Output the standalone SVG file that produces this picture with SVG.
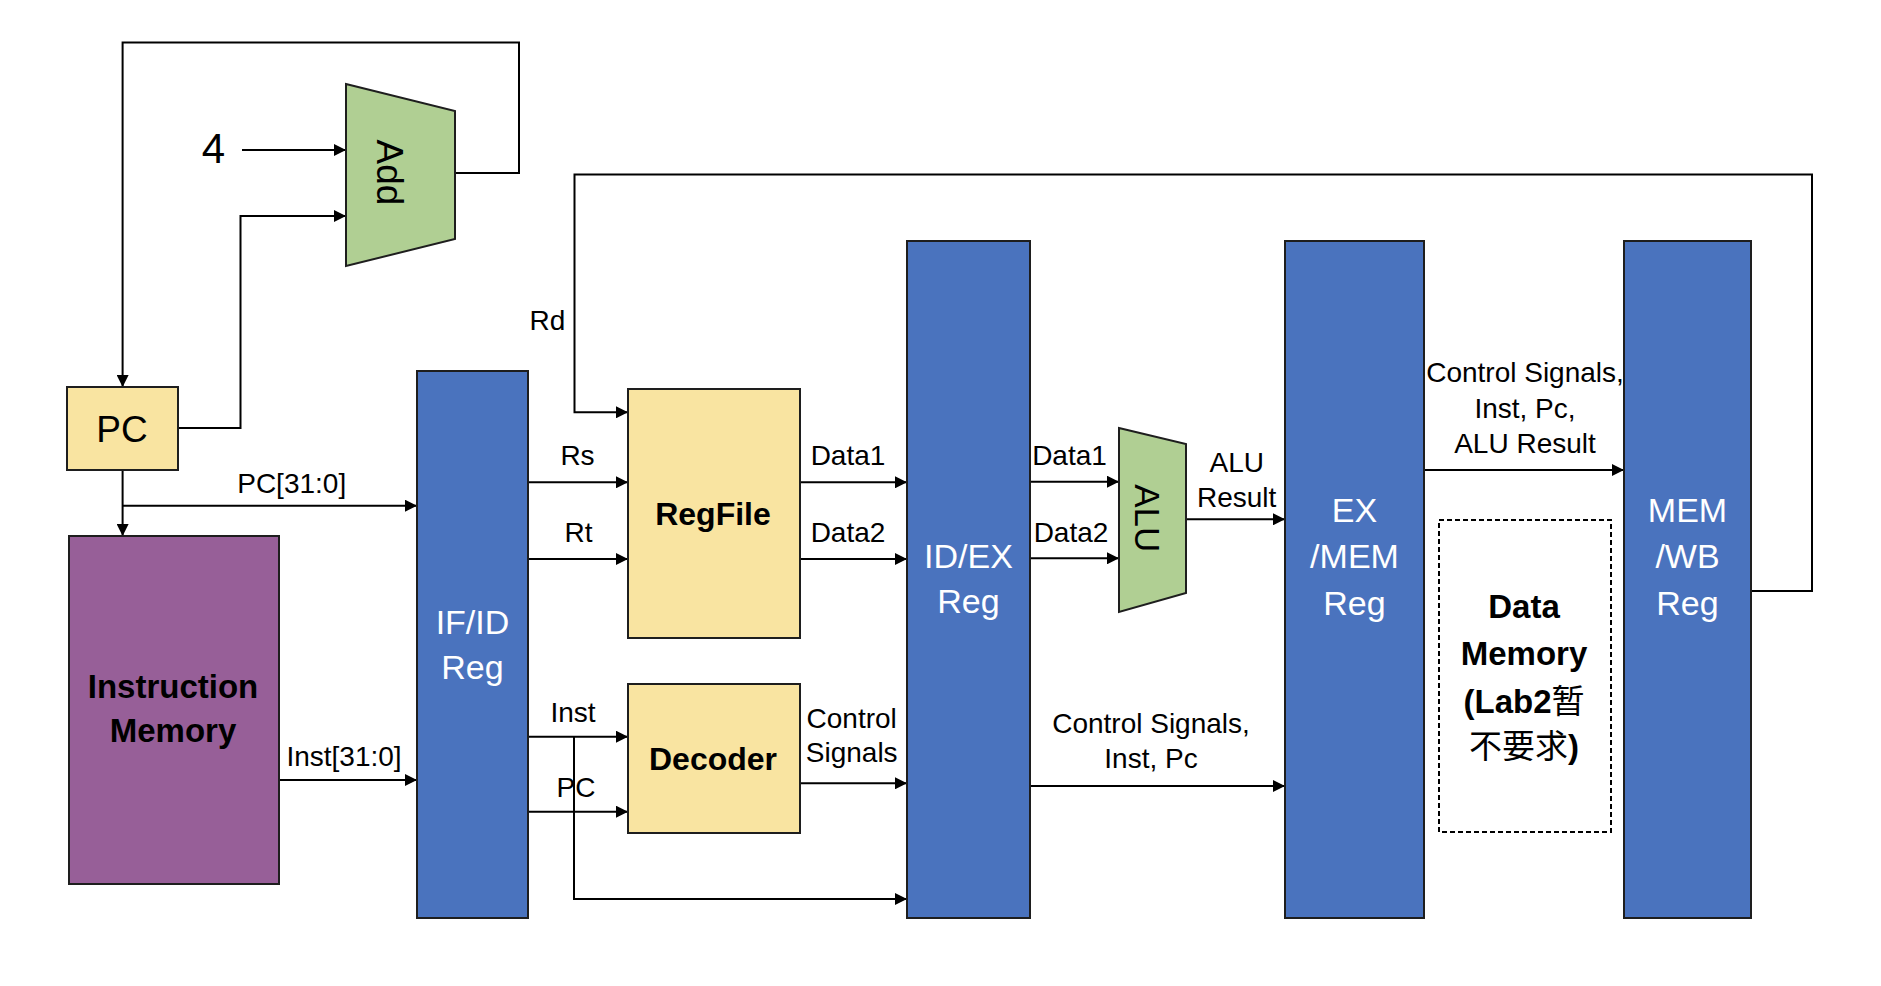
<svg xmlns="http://www.w3.org/2000/svg" width="1881" height="986" viewBox="0 0 1881 986">
<style>
.ln{fill:none;stroke:#000;stroke-width:2}
.a{marker-end:url(#ah)}
.t{font-family:"Liberation Sans","Noto Sans CJK SC",sans-serif;fill:#000;text-anchor:middle}
.s{font-size:28px}
.b{font-weight:bold}
.cjk{font-weight:normal;font-family:"Noto Sans CJK SC",sans-serif}
.reg{fill:#4A73BE;stroke:#1e1e1e;stroke-width:2}
.rt{font-size:34px;fill:#fff}
.yel{fill:#F9E4A1;stroke:#1e1e1e;stroke-width:2}
.grn{fill:#B0CF93;stroke:#1e1e1e;stroke-width:2}
.pur{fill:#975F98;stroke:#1e1e1e;stroke-width:2}
</style>
<defs>
<marker id="ah" markerUnits="userSpaceOnUse" viewBox="0 0 12 12" markerWidth="12" markerHeight="12" refX="12" refY="6" orient="auto">
<path d="M0,0 L12,6 L0,12 z" fill="#000"/>
</marker>
</defs>
<rect width="1881" height="986" fill="#fff"/>

<g id="connectors">
<path class="ln a" d="M455,173 H519 V42.5 H122.6 V387"/>
<path class="ln a" d="M242,150 H346"/>
<path class="ln a" d="M178,428 H240.5 V216 H346"/>
<path class="ln a" d="M122.6,470 V536"/>
<path class="ln a" d="M122.6,505.7 H417"/>
<path class="ln a" d="M279,780 H417"/>
<path class="ln a" d="M528,482.3 H628"/>
<path class="ln a" d="M528,559 H628"/>
<path class="ln a" d="M528,736.7 H628"/>
<path class="ln a" d="M528,811.7 H628"/>
<path class="ln a" d="M574,736.7 V899 H907"/>
<path class="ln a" d="M800,482.3 H907"/>
<path class="ln a" d="M800,559 H907"/>
<path class="ln a" d="M800,783.3 H907"/>
<path class="ln a" d="M1030,481.7 H1119"/>
<path class="ln a" d="M1030,558.3 H1119"/>
<path class="ln a" d="M1186,519.3 H1285"/>
<path class="ln a" d="M1030,786 H1285"/>
<path class="ln a" d="M1424,470 H1624"/>
<path class="ln a" d="M1751,591 H1812 V174.5 H574.5 V412.3 H628"/>
</g>

<g id="const4"><text class="t" x="213.5" y="163" font-size="42">4</text></g>

<g id="add">
<polygon class="grn" points="346,84 455,111 455,239 346,266"/>
<text class="t" transform="translate(377,172.5) rotate(90)" font-size="37">Add</text>
</g>

<g id="pc">
<rect class="yel" x="67" y="387" width="111" height="83"/>
<text class="t" x="122" y="442" font-size="37">PC</text>
</g>

<g id="imem">
<rect class="pur" x="69" y="536" width="210" height="348"/>
<text class="t b" x="173" y="698" font-size="33">Instruction</text>
<text class="t b" x="173" y="742" font-size="33">Memory</text>
</g>

<g id="ifid">
<rect class="reg" x="417" y="371" width="111" height="547"/>
<text class="t rt" x="472.5" y="634">IF/ID</text>
<text class="t rt" x="472.5" y="679">Reg</text>
</g>

<g id="regfile">
<rect class="yel" x="628" y="389" width="172" height="249"/>
<text class="t b" x="713" y="525" font-size="32">RegFile</text>
</g>

<g id="decoder">
<rect class="yel" x="628" y="684" width="172" height="149"/>
<text class="t b" x="713" y="770" font-size="32">Decoder</text>
</g>

<g id="idex">
<rect class="reg" x="907" y="241" width="123" height="677"/>
<text class="t rt" x="968.5" y="568">ID/EX</text>
<text class="t rt" x="968.5" y="613">Reg</text>
</g>

<g id="alu">
<polygon class="grn" points="1119,428 1186,444 1186,593 1119,612"/>
<text class="t" transform="translate(1135,518.3) rotate(90)" font-size="35">ALU</text>
</g>

<g id="exmem">
<rect class="reg" x="1285" y="241" width="139" height="677"/>
<text class="t rt" x="1354.5" y="522">EX</text>
<text class="t rt" x="1354.5" y="568">/MEM</text>
<text class="t rt" x="1354.5" y="615">Reg</text>
</g>

<g id="dmem">
<rect x="1439" y="520" width="172" height="312" fill="#fff" stroke="#000" stroke-width="2" stroke-dasharray="5,3"/>
<text class="t b" x="1524" y="618" font-size="33">Data</text>
<text class="t b" x="1524" y="665" font-size="33">Memory</text>
<text class="t b" x="1524" y="713" font-size="33">(Lab2<tspan class="cjk">暂</tspan></text>
<text class="t b" x="1524" y="758" font-size="33"><tspan class="cjk">不要求</tspan>)</text>
</g>

<g id="memwb">
<rect class="reg" x="1624" y="241" width="127" height="677"/>
<text class="t rt" x="1687.5" y="522">MEM</text>
<text class="t rt" x="1687.5" y="568">/WB</text>
<text class="t rt" x="1687.5" y="615">Reg</text>
</g>

<g id="labels">
<text class="t s" x="291.7" y="493">PC[31:0]</text>
<text class="t s" x="344" y="765.5">Inst[31:0]</text>
<text class="t s" x="547.5" y="330">Rd</text>
<text class="t s" x="577.5" y="465">Rs</text>
<text class="t s" x="578.5" y="541.7">Rt</text>
<text class="t s" x="573" y="721.7">Inst</text>
<text class="t s" x="576" y="797.3">PC</text>
<text class="t s" x="848" y="465">Data1</text>
<text class="t s" x="848" y="541.7">Data2</text>
<text class="t s" x="851.7" y="727.7">Control</text>
<text class="t s" x="851.7" y="761.7">Signals</text>
<text class="t s" x="1069.5" y="465">Data1</text>
<text class="t s" x="1071" y="541.7">Data2</text>
<text class="t s" x="1236.7" y="472.3">ALU</text>
<text class="t s" x="1236.7" y="506.7">Result</text>
<text class="t s" x="1151" y="733">Control Signals,</text>
<text class="t s" x="1151" y="768">Inst, Pc</text>
<text class="t s" x="1525" y="381.7">Control Signals,</text>
<text class="t s" x="1525" y="418">Inst, Pc,</text>
<text class="t s" x="1525" y="453">ALU Result</text>
</g>
</svg>
